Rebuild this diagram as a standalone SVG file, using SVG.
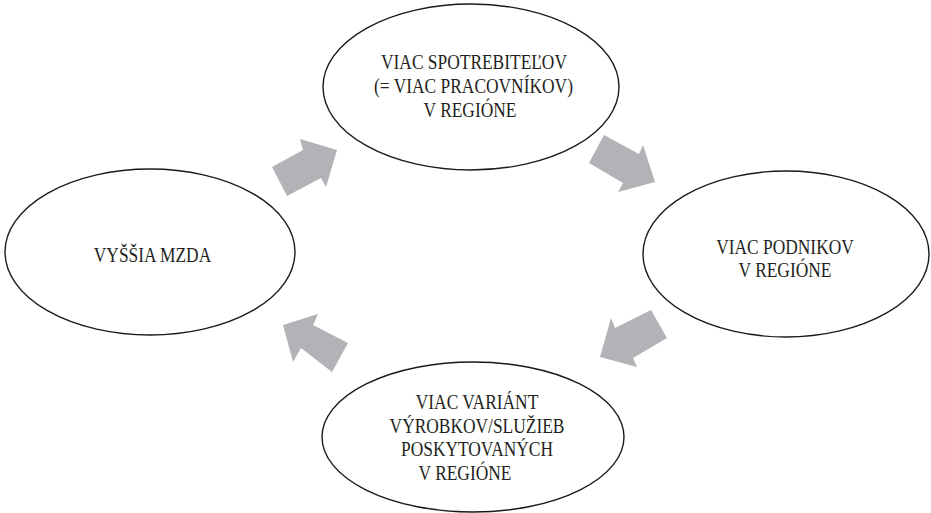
<svg xmlns="http://www.w3.org/2000/svg" width="931" height="513" viewBox="0 0 931 513">
<style>
.node ellipse{fill:#fff;stroke:#1a1a1a;stroke-width:1.4}
.node text{font-family:"Liberation Serif","Times New Roman",serif;font-size:20px;fill:#231f20;text-anchor:middle}
.arrow{fill:#b1b3b6;stroke:none}
</style>
<rect width="931" height="513" fill="#fff"/>
<g id="connectors">
<polygon class="arrow" points="272,167 303,150 300,139 337,150 326,187 321,178 287,196"/>
<polygon class="arrow" points="604,135 639,154 643,145 655,182 618,192 623,183 589,163"/>
<polygon class="arrow" points="651,310 667,338 633,358 637,367 600,357 611,318 615,328"/>
<polygon class="arrow" points="348,343 313,325 318,314 283,325 293,362 301,348 332,372"/>
</g>
<g id="node-top" class="node">
<ellipse cx="471" cy="87" rx="148" ry="83"/>
<text transform="translate(474,69) scale(0.87,1)">VIAC SPOTREBITEĽOV</text>
<text transform="translate(473.5,93) scale(0.87,1)">(= VIAC PRACOVNÍKOV)</text>
<text transform="translate(470,117) scale(0.87,1)">V REGIÓNE</text>
</g>
<g id="node-right" class="node">
<ellipse cx="786" cy="254" rx="143" ry="83"/>
<text transform="translate(785,254) scale(0.87,1)">VIAC PODNIKOV</text>
<text transform="translate(785,277) scale(0.87,1)">V REGIÓNE</text>
</g>
<g id="node-bottom" class="node">
<ellipse cx="473" cy="437" rx="151" ry="75"/>
<text transform="translate(477,409) scale(0.87,1)">VIAC VARIÁNT</text>
<text transform="translate(477,432.5) scale(0.87,1)">VÝROBKOV/SLUŽIEB</text>
<text transform="translate(477,456) scale(0.87,1)">POSKYTOVANÝCH</text>
<text transform="translate(465,479.5) scale(0.87,1)">V REGIÓNE</text>
</g>
<g id="node-left" class="node">
<ellipse cx="150" cy="252" rx="145" ry="83"/>
<text transform="translate(152.5,262) scale(0.87,1)">VYŠŠIA MZDA</text>
</g>
</svg>
